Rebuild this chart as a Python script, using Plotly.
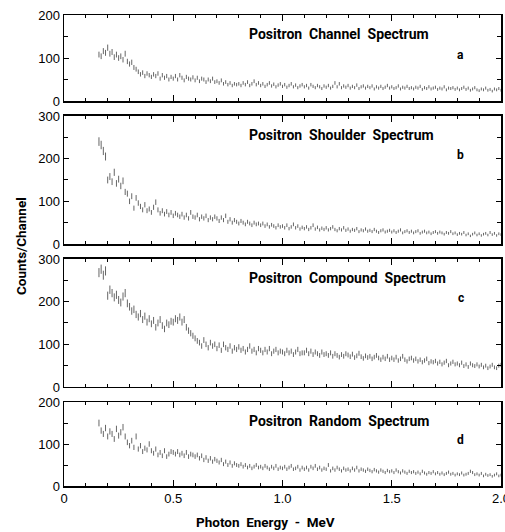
import plotly.graph_objects as go
from plotly.subplots import make_subplots

# Channel energies start at 0.16 MeV, 0.01 MeV per channel, up to 2.00 MeV
E_START = 0.16
E_STEP = 0.01

channel_counts = [
    108, 104, 116, 112,
    124, 110, 114, 102, 108, 100, 104, 96, 110, 92,
    86, 90, 78, 74, 68, 62, 66, 58, 64, 60,
    56, 62, 58, 64, 52, 60, 54, 58, 50, 56,
    52, 58, 50, 60, 54, 48, 56, 52, 50, 55,
    48, 54, 46, 52, 50, 44, 50, 46, 52, 44,
    46, 42, 48, 40, 44, 38, 42, 36, 40, 38,
    40, 36, 42, 38, 44, 36, 40, 46, 38, 42,
    36, 40, 34, 38, 42, 35, 39, 33, 37, 40,
    34, 38, 32, 36, 40, 33, 37, 31, 35, 38,
    33, 36, 30, 38, 34, 31, 36, 33, 29, 35,
    32, 36, 30, 34, 42, 33, 40, 31, 35, 32,
    36, 30, 34, 31, 37, 29, 33, 35, 30, 34,
    31, 35, 28, 33, 30, 34, 29, 32, 36, 30,
    33, 29, 31, 35, 28, 32, 30, 34, 29, 31,
    28, 32, 30, 34, 27, 31, 29, 33, 28, 30,
    32, 27, 30, 28, 33, 26, 30, 29, 31, 27,
    30, 26, 29, 32, 27, 30, 25, 28, 31, 26,
    24, 28, 26, 30, 25, 27, 23, 28, 26, 29,
    25,
]

shoulder_counts = [
    240, 232, 218, 205,
    150, 158, 146, 168, 142, 152, 136, 148, 122, 118,
    100, 112, 84, 108, 96, 88, 80, 92, 78, 82,
    74, 86, 98, 80, 72, 78, 70, 76, 68, 74,
    66, 72, 68, 64, 70, 62, 68, 60, 74, 64,
    62, 68, 58, 64, 60, 66, 56, 62, 58, 64,
    60, 54, 62, 56, 66, 52, 58, 50, 56, 52,
    48, 54, 50, 46, 52, 48, 44, 50, 46, 48,
    44, 48, 42, 46, 40, 45, 42, 38, 44, 40,
    42, 38, 44, 36, 40, 46, 38, 42, 35, 39,
    36, 40, 34, 38, 44, 35, 39, 33, 37, 34,
    38, 33, 36, 40, 34, 31, 36, 33, 38, 32,
    35, 30, 34, 32, 36, 29, 33, 31, 35, 30,
    32, 29, 34, 30, 27, 31, 33, 28, 30, 32,
    28, 31, 27, 30, 33, 26, 29, 31, 27, 30,
    26, 29, 31, 25, 28, 30, 26, 28, 24, 27,
    29, 25, 28, 26, 23, 27, 25, 29, 24, 26,
    22, 25, 23, 27, 21, 24, 19, 23, 26, 21,
    24, 20, 23, 25, 21, 27, 22, 25, 20, 24,
    22,
]

compound_counts = [
    268, 276, 262, 272,
    214, 228, 220, 210, 216, 204, 198, 212, 220, 196,
    188, 178, 182, 170, 164, 172, 158, 166, 152, 160,
    148, 156, 140, 150, 158, 144, 136, 150, 146, 154,
    152, 160, 156, 164, 152, 158, 140, 132, 126, 120,
    114, 108, 104, 96, 110, 100, 92, 104, 96, 100,
    90, 98, 86, 100, 92, 88, 96, 84, 92, 88,
    94, 86, 90, 82, 88, 96, 84, 88, 80, 90,
    86, 80, 88, 82, 90, 78, 84, 88, 80, 84,
    82, 78, 86, 80, 84, 76, 82, 88, 78, 80,
    80, 86, 78, 84, 76, 82, 78, 74, 82, 76,
    78, 74, 80, 72, 78, 74, 70, 76, 72, 78,
    75, 71, 77, 69, 73, 79, 71, 67, 73, 69,
    72, 66, 70, 74, 68, 64, 70, 66, 72, 64,
    68, 64, 70, 62, 66, 72, 64, 60, 66, 68,
    62, 66, 60, 64, 58, 62, 66, 56, 60, 58,
    61, 55, 59, 53, 57, 61, 51, 55, 59, 53,
    55, 51, 57, 49, 53, 47, 55, 51, 49, 53,
    48, 52, 46, 50, 44, 48, 52, 46, 44, 50,
    52,
]

random_counts = [
    150, 132, 124, 138,
    118, 130, 124, 112, 136, 120, 128, 140, 118, 104,
    96, 108, 92, 118, 88, 96, 82, 90, 86, 100,
    84, 78, 88, 74, 80, 72, 84, 70, 76, 82,
    80, 76, 82, 74, 78, 72, 80, 70, 76, 74,
    70, 74, 66, 72, 62, 68, 60, 66, 58, 64,
    60, 56, 62, 52, 58, 50, 56, 48, 54, 50,
    48, 52, 46, 50, 44, 48, 42, 46, 50, 44,
    46, 42, 48, 44, 40, 46, 42, 48, 40, 44,
    42, 46, 40, 44, 48, 40, 42, 46, 38, 44,
    40, 44, 38, 46, 42, 48, 40, 44, 38, 42,
    40, 50, 36, 42, 38, 44, 40, 36, 42, 38,
    40, 36, 42, 38, 44, 36, 40, 38, 35, 40,
    37, 34, 39, 36, 33, 38, 35, 32, 37, 34,
    36, 32, 38, 34, 31, 36, 33, 30, 35, 32,
    34, 30, 33, 29, 35, 31, 28, 32, 30, 34,
    29, 32, 28, 31, 27, 30, 33, 28, 30, 26,
    29, 27, 31, 26, 28, 30, 35, 32, 27, 29,
    26, 30, 24, 28, 25, 27, 23, 26, 29, 24,
    26,
]

panel_titles = ["Positron  Channel  Spectrum", "Positron  Shoulder  Spectrum",
                "Positron  Compound  Spectrum", "Positron  Random  Spectrum"]
panel_letters = ["a", "b", "c", "d"]
panel_series = [channel_counts, shoulder_counts, compound_counts, random_counts]
panel_ymax = [200, 300, 300, 200]

x_ticks = [0, 0.5, 1.0, 1.5, 2.0]
x_tick_text = ["0", "0.5", "1.0", "1.5", "2.0"]

# Statistical (Poisson-like) error-bar scale as printed in the original figure
ERR_SCALE = 0.65

# layout geometry (paper fractions)
domains = [(0.8174, 1.0), (0.5138, 0.7856), (0.2102, 0.4820), (0.0, 0.1783)]
title_y = [0.960, 0.745, 0.442, 0.138]
letter_y = [0.915, 0.703, 0.399, 0.098]

BAR = "#666666"
BOLD = "Roboto, Liberation Sans, Arial, sans-serif"
TITLE_FONT = dict(family=BOLD, size=14, color="black", weight="bold")
TICK_FONT = dict(family="Liberation Sans, Arial, sans-serif", size=13, color="black")

fig = make_subplots(rows=4, cols=1, shared_xaxes=True, vertical_spacing=0.03)

for i, ys in enumerate(panel_series):
    errs = [ERR_SCALE * v ** 0.5 for v in ys]
    fig.add_trace(go.Scatter(
        x0=E_START, dx=E_STEP, y=ys, mode="markers",
        marker=dict(size=1, color="rgba(0,0,0,0)"),
        error_y=dict(type="data", array=errs, visible=True, width=0, thickness=1, color=BAR),
        showlegend=False, hoverinfo="skip"),
        row=i + 1, col=1)

layout_updates = {}
for i in range(4):
    n = "" if i == 0 else str(i + 1)
    layout_updates["yaxis" + n] = dict(
        domain=list(domains[i]), range=[0, panel_ymax[i]],
        tickmode="array", tickvals=list(range(0, panel_ymax[i] + 1, 100)),
        ticks="inside", ticklen=5, tickwidth=1, tickcolor="black",
        minor=dict(dtick=50, ticks="inside", ticklen=4, tickcolor="black", showgrid=False),
        showline=True, linecolor="black", linewidth=1.5, mirror="ticks",
        showgrid=False, zeroline=False, tickfont=TICK_FONT, automargin=False)
    layout_updates["xaxis" + n] = dict(
        range=[0, 2.0], tickmode="array", tickvals=x_ticks, ticktext=x_tick_text,
        ticks="inside", ticklen=6, tickwidth=1, tickcolor="black",
        minor=dict(dtick=0.1, tick0=0, ticks="inside", ticklen=3, tickcolor="black", showgrid=False),
        showline=True, linecolor="black", linewidth=1.5, mirror="ticks",
        showgrid=False, zeroline=False, tickfont=TICK_FONT,
        showticklabels=(i == 3), ticklabeloverflow="allow", automargin=False)

fig.update_layout(**layout_updates)

annotations = []
for i in range(4):
    annotations.append(dict(text=panel_titles[i], xref="paper", yref="paper",
                            x=0.419, y=title_y[i], xanchor="left", yanchor="middle",
                            showarrow=False, font=TITLE_FONT))
    annotations.append(dict(text=panel_letters[i], xref="paper", yref="paper",
                            x=0.908, y=letter_y[i], xanchor="center", yanchor="middle",
                            showarrow=False, font=dict(TITLE_FONT, size=12)))
annotations.append(dict(text="Counts/Channel", xref="paper", yref="paper",
                        x=-0.098, y=0.51, textangle=-90, xanchor="center", yanchor="middle",
                        showarrow=False, font=dict(TITLE_FONT, size=13.5)))
annotations.append(dict(text="Photon  Energy  -  MeV", xref="paper", yref="paper",
                        x=0.46, y=-0.0764, xanchor="center", yanchor="middle",
                        showarrow=False, font=dict(TITLE_FONT, size=13.5)))

fig.update_layout(
    width=505, height=532, autosize=False,
    margin=dict(l=64, r=4, t=15, b=46),
    paper_bgcolor="white", plot_bgcolor="white",
    annotations=annotations,
)

fig.write_html("out.html",
               config={"displayModeBar": False, "staticPlot": True},
               post_script="document.body.style.margin='0';document.body.style.overflow='hidden';")
